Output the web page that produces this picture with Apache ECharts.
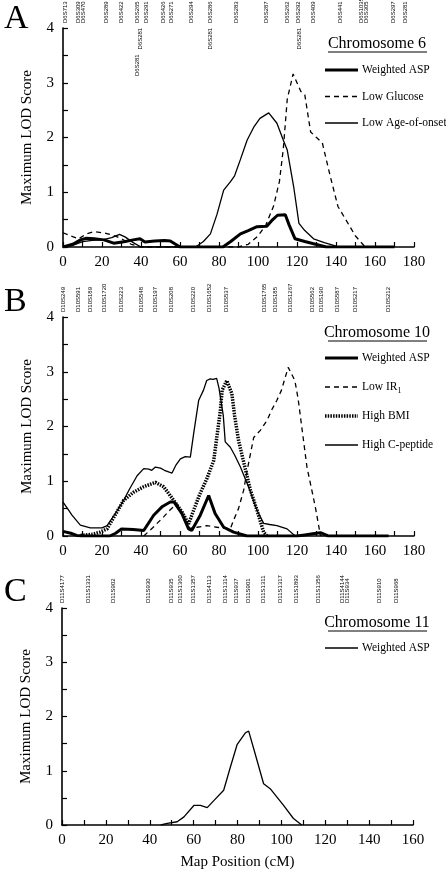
<!DOCTYPE html>
<html><head><meta charset="utf-8">
<script src="https://cdn.jsdelivr.net/npm/echarts@6/dist/echarts.min.js"></script>
<style>html,body{margin:0;padding:0;background:#fff}#c{width:446px;height:873px}</style>
</head><body><div id="c"></div><script>
// ---------- Data ----------
// Chromosome 6 (panel A)
const chr6WeightedASP = [[0,0],[5,0.05],[9,0.13],[12,0.16],[16,0.15],[21,0.13],[26,0.07],[32,0.1],[36,0.13],[39.5,0.15],[42,0.09],[47,0.11],[52,0.12],[55,0.11],[60,0],[82,0],[86,0.1],[91,0.24],[95,0.3],[99.5,0.37],[104.5,0.38],[107,0.48],[110,0.58],[114,0.59],[116,0.4],[119,0.15],[124,0.1],[128.5,0.06],[135,0],[170,0]];
const chr6LowGlucose = [[0,0.26],[4,0.2],[8,0.15],[12,0.24],[16,0.28],[22,0.25],[27,0.2],[30,0.15],[35,0.05],[40,0],[90,0],[95,0.05],[100,0.2],[104,0.4],[108,0.75],[111,1.2],[113,1.8],[115,2.7],[118,3.16],[120,3.0],[122,2.84],[124,2.78],[127,2.1],[130,2.0],[133,1.9],[137,1.3],[141,0.74],[145,0.5],[150,0.2],[155,0]];
const chr6LowAgeOnset = [[0,0],[5,0.03],[10,0.1],[15,0.12],[20,0.13],[25,0.17],[29,0.23],[32,0.18],[36,0.08],[40,0],[68,0],[72,0.1],[75.6,0.24],[79,0.6],[82.4,1.04],[85.8,1.19],[88,1.3],[91,1.6],[94.4,1.95],[98,2.2],[101,2.35],[105.5,2.45],[109.7,2.26],[113,1.95],[115,1.77],[118.3,1.1],[121,0.43],[124,0.3],[128.5,0.15],[134,0.08],[138.8,0.03],[141,0]];
const chr6MarkerNames = ['D6S713','D6S309\nD6S470','D6S289','D6S422','D6S265','D6S291','D6S281','D6S281','D6S426','D6S271','D6S294','D6S286','D6S281','D6S283','D6S287','D6S262','D6S292','D6S281','D6S409','D6S441','D6S1035\nD6S305','D6S297','D6S281'];
const chr6MarkerPos   = [1,9,22,30,38,42.5,39.5,38,51.5,55.7,66,75.4,75.7,89,104.5,115,120.7,121,128.4,142,154.4,169.4,175.4];
const chr6MarkerTier  = [0,0,0,0,0,0,1,2,0,0,0,0,1,0,0,0,0,1,0,0,0,0,0];
const chr6Legend = ['Weighted ASP','Low Glucose','Low Age-of-onset'];

// Chromosome 10 (panel B)
const chr10WeightedASP = [[0,0.085],[4,0.05],[7,0.01],[10.6,0],[24,0],[27,0.05],[30,0.13],[36,0.12],[41.4,0.1],[46.5,0.38],[51,0.54],[55,0.62],[57,0.62],[61,0.41],[64.4,0.13],[66,0.1],[70.4,0.38],[74.7,0.74],[78,0.41],[82.4,0.16],[87.5,0.07],[94.4,0],[120,0],[124,0.02],[128,0.04],[132,0.06],[136,0],[167,0]];
const chr10LowIR1 = [[41.4,0],[46,0.15],[51.6,0.35],[55,0.48],[58.5,0.59],[62,0.3],[65,0.14],[68.7,0.16],[73.8,0.19],[79,0.16],[85.8,0.13],[87.5,0.29],[90,0.5],[92.6,0.83],[95,1.3],[97.8,1.8],[101.2,1.93],[104.6,2.11],[107,2.3],[109.7,2.48],[112,2.66],[115.5,3.08],[118.9,2.84],[120.6,2.5],[125.1,1.26],[129.4,0.53],[132,0.01],[132.8,0]];
const chr10HighBMI = [[9,0.01],[15,0.03],[19,0.07],[22.6,0.13],[27,0.4],[31.1,0.65],[36.2,0.8],[41.4,0.9],[47.4,0.98],[51.6,0.9],[56.8,0.65],[61,0.44],[64.4,0.22],[67,0.47],[70,0.75],[73.8,1.05],[77.3,1.38],[80.7,2.29],[81.6,2.66],[84,2.84],[86.6,2.6],[88,2.2],[90,1.75],[93,1.3],[96,0.85],[99.5,0.47],[102.9,0.07],[104.6,0]];
const chr10HighCpeptide = [[0,0.62],[2,0.52],[4.6,0.38],[8.9,0.2],[14,0.15],[20,0.15],[22.6,0.19],[27,0.42],[31.1,0.65],[34,0.85],[38,1.1],[41.4,1.23],[44,1.22],[45.5,1.2],[47.4,1.26],[50,1.24],[52,1.2],[55.9,1.15],[58,1.3],[60.2,1.41],[62.7,1.45],[65.3,1.44],[67,1.87],[69.6,2.48],[72,2.66],[73.7,2.84],[75.5,2.87],[77,2.86],[78.8,2.88],[80,2.7],[82.2,2.2],[83.2,1.72],[85.8,1.62],[88,1.48],[91,1.26],[95.2,0.89],[99.5,0.47],[102.9,0.23],[106,0.21],[109.7,0.19],[114.9,0.13],[119.1,0]];
const chr10MarkerNames = ['D10S249','D10S591','D10S189','D10S1720','D10S223','D10S548','D10S197','D10S208','D10S220','D10S1652','D10S537','D10S1765','D10S185','D10S1267','D10S562','D10S190','D10S587','D10S217','D10S212'];
const chr10MarkerPos   = [0,7.8,14.2,21.2,30.1,40.4,47.2,55.4,66.8,75,83.6,103,108.7,116.4,128,132.7,140.9,149.7,166.8];
const chr10Legend = ['Weighted ASP','Low IR1','High BMI','High C-peptide'];

// Chromosome 11 (panel C)
const chr11WeightedASP = [[45,0],[48,0.03],[52.5,0.06],[55.6,0.15],[60.1,0.36],[63.1,0.36],[66.2,0.32],[69.2,0.45],[73.7,0.64],[76.7,1.06],[79.8,1.48],[83.6,1.7],[85.1,1.73],[87.3,1.42],[91.9,0.76],[94.9,0.67],[97.9,0.52],[101,0.36],[105.5,0.12],[109.3,0]];
const chr11MarkerNames = ['D11S4177','D11S1331','D11S902','D11S930','D11S935','D11S1360','D11S1357','D11S4113','D11S1314','D11S937','D11S901','D11S1311','D11S1317','D11S1893','D11S1356','D11S4144\nD11S934','D11S910','D11S968'];
const chr11MarkerPos   = [0,12,23.4,39.3,50,54,59.8,67.1,74.3,79.6,84.9,91.8,99.4,106.7,116.8,129,144.5,152.3];
const chr11Legend = ['Weighted ASP'];

const xMaxA = 180, xMaxB = 180, xMaxC = 160;

// ---------- Styles / layout ----------
const SERIF = 'Liberation Serif, Times New Roman, serif';
const grids = [
  {left:63, top:28, width:351, height:219},
  {left:63, top:317, width:351, height:219},
  {left:62, top:608, width:351, height:217}
];
function xAxisDef(i, max){
  return {gridIndex:i, type:'value', min:0, max:max, interval:20,
    name: i===2 ? 'Map Position (cM)' : '', nameLocation:'middle', nameGap:30,
    nameTextStyle:{fontFamily:SERIF, fontSize:15, color:'#000'},
    axisLine:{lineStyle:{color:'#000', width:1.6}},
    axisTick:{inside:true, length:5, lineStyle:{color:'#000', width:1.2}},
    minorTick:{show:true, splitNumber:2, length:5, lineStyle:{color:'#000', width:1.2}},
    splitLine:{show:false}, minorSplitLine:{show:false},
    axisLabel:{color:'#000', fontFamily:SERIF, fontSize:15, margin:8}};
}
function yAxisDef(i){
  return {gridIndex:i, type:'value', min:0, max:4, interval:1,
    name:'Maximum LOD Score', nameLocation:'middle', nameGap:28,
    nameTextStyle:{fontFamily:SERIF, fontSize:15, color:'#000'},
    axisLine:{show:true, lineStyle:{color:'#000', width:1.6}},
    axisTick:{show:true, inside:true, length:5, lineStyle:{color:'#000', width:1.2}},
    minorTick:{show:true, splitNumber:2, length:5, lineStyle:{color:'#000', width:1.2}},
    splitLine:{show:false},
    axisLabel:{color:'#000', fontFamily:SERIF, fontSize:15, margin:9}};
}
const thick = {color:'#000', width:3, type:'solid'};
const thin = {color:'#000', width:1.3, type:'solid'};
const dashed = {color:'#000', width:1.3, type:[5,4]};
const dotted = {color:'#000', width:3.5, type:[1.5,1.2]};
function lineSeries(name, idx, data, ls){
  return {name:name, type:'line', xAxisIndex:idx, yAxisIndex:idx, data:data,
    symbol:'none', showSymbol:false, smooth:false, silent:true, animation:false,
    lineStyle:ls, itemStyle:{color:'#000'}, z:3};
}
function markerSeries(idx, names, pos, tiers){
  return {type:'custom', xAxisIndex:idx, yAxisIndex:idx, silent:true, clip:false, animation:false,
    data: pos.map(p => [p, 4]),
    renderItem: function(params, api){
      const i = params.dataIndex;
      const pt = api.coord([api.value(0), api.value(1)]);
      const tier = tiers ? tiers[i] : 0;
      return {type:'text', x:pt[0], y:pt[1] - 5 + tier*26.5, rotation:Math.PI/2,
        style:{text:names[i], fontSize:6, fontFamily:'Liberation Sans, Arial, sans-serif',
          fill:'#000', align:'left', verticalAlign:'middle', lineHeight:5}};
    }};
}

const series = [
  lineSeries('A Weighted ASP', 0, chr6WeightedASP, thick),
  lineSeries('A Low Glucose', 0, chr6LowGlucose, dashed),
  lineSeries('A Low Age-of-onset', 0, chr6LowAgeOnset, thin),
  lineSeries('B Weighted ASP', 1, chr10WeightedASP, thick),
  lineSeries('B Low IR1', 1, chr10LowIR1, dashed),
  lineSeries('B High BMI', 1, chr10HighBMI, dotted),
  lineSeries('B High C-peptide', 1, chr10HighCpeptide, thin),
  lineSeries('C Weighted ASP', 2, chr11WeightedASP, thin),
  markerSeries(0, chr6MarkerNames, chr6MarkerPos, chr6MarkerTier),
  markerSeries(1, chr10MarkerNames, chr10MarkerPos, null),
  markerSeries(2, chr11MarkerNames, chr11MarkerPos, null)
];

function titleGraphics(label, ly, chrom, cy){
  return [
    {type:'text', left:4, top:ly, style:{text:label, font:'34px ' + SERIF, fill:'#000'}},
    {type:'text', x:377, y:cy, style:{text:chrom, font:'16px ' + SERIF, fill:'#000', align:'center', verticalAlign:'middle'}},
    {type:'line', shape:{x1:328, y1:cy+8, x2:427, y2:cy+8}, style:{stroke:'#000', lineWidth:1}}
  ];
}
function legendGraphics(names, styles, y0, step){
  const out = [];
  names.forEach((n, i) => {
    const y = y0 + i*step, s = styles[i];
    out.push({type:'line', shape:{x1:325, y1:y, x2:358, y2:y},
      style:{stroke:'#000', lineWidth:s.width, lineDash: Array.isArray(s.type) ? s.type : null}});
    const txt = n === 'Low IR1' ? '{a|Low IR}{s|1}' : n;
    out.push({type:'text', x:362, y:y, style:{text:txt, font:'11.5px ' + SERIF, fill:'#000', verticalAlign:'middle',
      rich:{a:{fontFamily:SERIF, fontSize:11.5, fill:'#000'}, s:{fontFamily:SERIF, fontSize:8, fill:'#000', padding:[7,0,0,0]}}}});
  });
  return out;
}

const chart = echarts.init(document.getElementById('c'), null, {renderer:'canvas'});
chart.setOption({
  animation:false,
  backgroundColor:'#fff',
  grid: grids,
  xAxis: [xAxisDef(0, xMaxA), xAxisDef(1, xMaxB), xAxisDef(2, xMaxC)],
  yAxis: [yAxisDef(0), yAxisDef(1), yAxisDef(2)],
  graphic: [].concat(
    titleGraphics('A', 2, 'Chromosome 6', 44),
    titleGraphics('B', 285, 'Chromosome 10', 333),
    titleGraphics('C', 575, 'Chromosome 11', 623),
    legendGraphics(chr6Legend, [thick, dashed, thin], 70, 26.5),
    legendGraphics(chr10Legend, [thick, dashed, dotted, thin], 358, 29),
    legendGraphics(chr11Legend, [thin], 648, 0)
  ),
  series: series
});
</script></body></html>
